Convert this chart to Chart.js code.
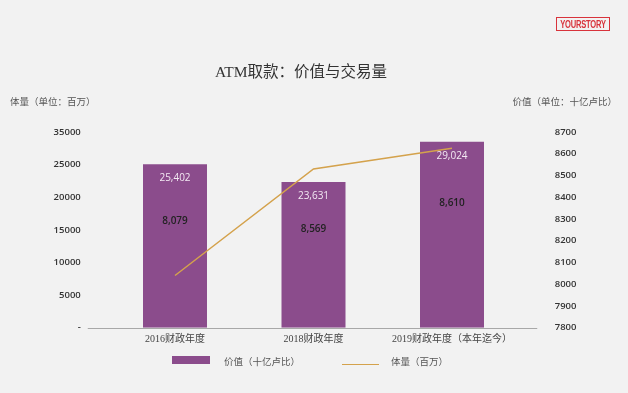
<!DOCTYPE html>
<html>
<head>
<meta charset="utf-8">
<script src="https://cdn.jsdelivr.net/npm/chart.js@4/dist/chart.umd.min.js"></script>
<style>
  body { margin: 0; background: #f2f2f2; }
  #wrap { position: relative; width: 628px; height: 393px; background: #f2f2f2; overflow: hidden; }
  #wrap canvas { position: absolute; left: 0; top: 0; }
  .txt { position: absolute; white-space: nowrap; font-family: 'Liberation Serif', 'Noto Sans CJK SC', serif; color: #555; }
  #titulo { left: 0; width: 602px; top: 59px; text-align: center; font-size: 15.5px; color: #333; }
  #eje-izq { left: 10px; top: 94px; font-size: 9.5px; }
  #eje-der { right: 11px; top: 94px; font-size: 9.5px; }
  #logo {
    position: absolute; left: 556px; top: 17px; width: 52px; height: 12px;
    border: 1.5px solid #d8333b; overflow: hidden;
  }
  #logo span {
    display: block; width: 70px; margin-left: -9px; text-align: center; transform: scaleX(0.72);
    color: #d8333b; font: bold 10.5px/12px 'Liberation Sans', sans-serif; letter-spacing: -0.3px;
  }
  .ley-caja { position: absolute; left: 172px; top: 356px; width: 38px; height: 8px; background: #8b4c8c; }
  .ley-linea { position: absolute; left: 342px; top: 363.5px; width: 37px; height: 1.5px; background: #d4a24c; }
  #ley1 { left: 224px; top: 354px; font-size: 9.5px; }
  #ley2 { left: 391px; top: 354px; font-size: 9.5px; }
</style>
</head>
<body>
<div id="wrap">
  <canvas id="grafica" width="628" height="393"></canvas>
  <div id="logo"><span>YOURSTORY</span></div>
  <div class="txt" id="titulo">ATM取款：价值与交易量</div>
  <div class="txt" id="eje-izq">体量（单位：百万）</div>
  <div class="txt" id="eje-der">价值（单位：十亿卢比）</div>
  <div class="ley-caja"></div>
  <div class="txt" id="ley1">价值（十亿卢比）</div>
  <div class="ley-linea"></div>
  <div class="txt" id="ley2">体量（百万）</div>
</div>
<script>
// datos
const years = ['2016财政年度', '2018财政年度', '2019财政年度（本年迄今）']
const barValues = [25050, 22340, 28510]     // altura de barras, eje izquierdo
const lineValues = [8040, 8530, 8625]       // linea, eje derecho
const barTopLabels = ['25,402', '23,631', '29,024']
const barMidLabels = ['8,079', '8,569', '8,610']
const leftTickLabels = ['-', '5000', '10000', '15000', '20000', '25000', '35000']
const rightTicks = [7800, 7900, 8000, 8100, 8200, 8300, 8400, 8500, 8600, 8700]

const PURPLE = '#8b4c8c'
const GOLD = '#d4a24c'

// etiquetas dentro de las barras + linea base
const etiquetas = {
  id: 'etiquetas',
  beforeDatasetsDraw(chart) {
    const ctx = chart.ctx
    const a = chart.chartArea
    ctx.save()
    ctx.strokeStyle = '#a8a8a8'
    ctx.lineWidth = 1
    ctx.beginPath()
    ctx.moveTo(a.left - 18, Math.round(a.bottom) + 0.5)
    ctx.lineTo(a.right + 16, Math.round(a.bottom) + 0.5)
    ctx.stroke()
    ctx.restore()
  },
  afterDatasetsDraw(chart) {
    const ctx = chart.ctx
    const bars = chart.getDatasetMeta(1).data
    const midOffsets = [57, 47, 61]
    ctx.save()
    ctx.textAlign = 'center'
    ctx.textBaseline = 'middle'
    bars.forEach(function(b, i) {
      ctx.font = "10px 'Open Sans', sans-serif"
      ctx.fillStyle = '#f3e9f3'
      ctx.fillText(barTopLabels[i], b.x, b.y + 14)
      ctx.font = "600 10px 'Open Sans', sans-serif"
      ctx.fillStyle = '#222'
      ctx.fillText(barMidLabels[i], b.x, b.y + midOffsets[i])
    })
    ctx.restore()
  }
}

const tickFont = { family: "'Open Sans', sans-serif", size: 9.5, weight: '600' }
const noGrid = { display: false, drawTicks: false }

new Chart(document.getElementById('grafica'), {
  type: 'bar',
  data: {
    labels: years,
    datasets: [
      {
        type: 'line',
        label: '体量（百万）',
        data: lineValues,
        yAxisID: 'y1',
        borderColor: GOLD,
        borderWidth: 1.5,
        pointRadius: 0,
        tension: 0,
        order: 0,
      },
      {
        label: '价值（十亿卢比）',
        data: barValues,
        yAxisID: 'y',
        backgroundColor: PURPLE,
        barPercentage: 0.462,
        categoryPercentage: 1,
        order: 1,
      }
    ]
  },
  options: {
    responsive: false,
    animation: false,
    layout: { padding: { left: 0, right: 0, top: 132, bottom: 45.3 } },
    plugins: { legend: { display: false }, tooltip: { enabled: false } },
    scales: {
      x: {
        grid: noGrid,
        border: { display: false },
        ticks: { color: '#444', padding: 6, font: { family: "'Liberation Serif', 'Noto Sans CJK SC', serif", size: 10 } },
        afterFit: function(s) { s.height = 20 }
      },
      y: {
        position: 'left',
        min: 0, max: 30000,
        grid: noGrid,
        border: { display: false },
        ticks: {
          stepSize: 5000, padding: 25, color: '#333', font: tickFont,
          callback: function(v, i) { return leftTickLabels[i] }
        },
        afterFit: function(s) { s.width = 105.75 }
      },
      y1: {
        position: 'right',
        min: rightTicks[0], max: rightTicks[rightTicks.length - 1],
        grid: noGrid,
        border: { display: false },
        ticks: {
          stepSize: 100, padding: 33.5, color: '#333', font: tickFont,
          callback: function(v) { return String(v) }
        },
        afterFit: function(s) { s.width = 106.75 }
      }
    }
  },
  plugins: [etiquetas]
})
</script>
</body>
</html>
